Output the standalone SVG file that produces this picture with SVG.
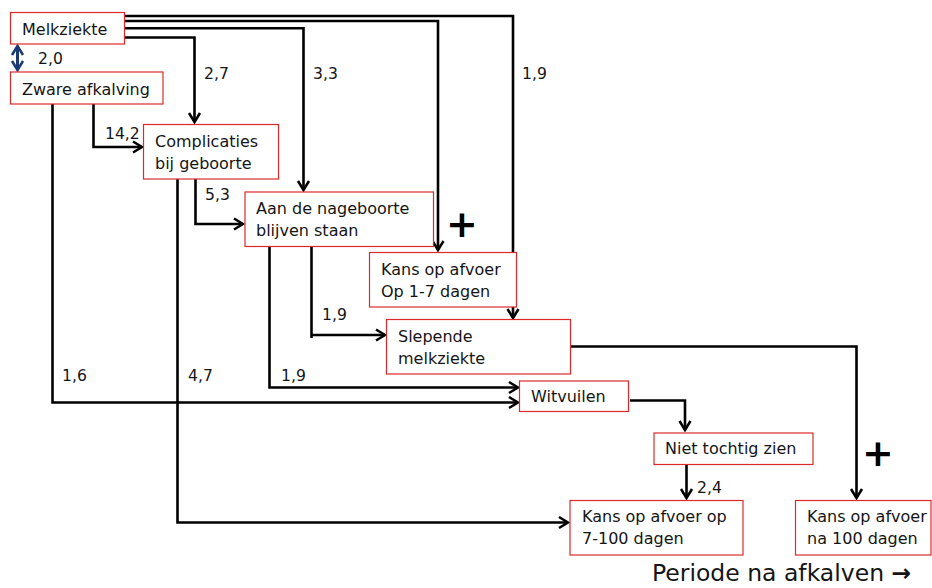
<svg xmlns="http://www.w3.org/2000/svg" width="932" height="588" viewBox="0 0 932 588">
<style>
  .box { fill: #fff; stroke: #dc2a2a; stroke-width: 1.2; }
  .t { font-family: "DejaVu Sans", "Liberation Sans", sans-serif; font-size: 16px; fill: #151515; }
  .lbl { font-family: "DejaVu Sans", "Liberation Sans", sans-serif; font-size: 15.6px; fill: #151515; }
  .c { fill: none; stroke: #000; stroke-width: 2.6; stroke-linejoin: miter; }
  .ca { fill: none; stroke: #000; stroke-width: 2.6; marker-end: url(#arr); }
  .plus { font-family: "DejaVu Sans", "Liberation Sans", sans-serif; font-size: 38px; font-weight: bold; fill: #000; }
</style>
<defs>
  <marker id="arr" markerUnits="userSpaceOnUse" markerWidth="14" markerHeight="14" refX="11" refY="7" orient="auto" overflow="visible">
    <path d="M2,1.5 L11,7 L2,12.5" fill="none" stroke="#000" stroke-width="2.5"/>
  </marker>
  <marker id="barr" markerUnits="userSpaceOnUse" markerWidth="14" markerHeight="14" refX="11" refY="7" orient="auto-start-reverse" overflow="visible">
    <path d="M2,1.5 L11,7 L2,12.5" fill="none" stroke="#1b3a75" stroke-width="2.5"/>
  </marker>
</defs>

<g id="connectors">
  <!-- Melkziekte -> Slepende melkziekte -->
  <path class="ca" d="M125,16 H513 V318"/>
  <!-- Melkziekte -> Kans 1-7 -->
  <path class="ca" d="M123,21 H438 V250"/>
  <!-- Melkziekte -> Aan de nageboorte -->
  <path class="ca" d="M125,28.3 H303.5 V190"/>
  <!-- Melkziekte -> Complicaties -->
  <path class="ca" d="M125,37.5 H194.5 V122"/>
  <!-- Melkziekte <-> Zware afkalving -->
  <path d="M17.5,46 V70" fill="none" stroke="#1b3a75" stroke-width="3" marker-start="url(#barr)" marker-end="url(#barr)"/>
  <!-- Zware -> Witvuilen -->
  <path class="ca" d="M52.5,104 V402.5 H518"/>
  <!-- Zware -> Complicaties -->
  <path class="ca" d="M93.5,104 V147 H142"/>
  <!-- Complicaties -> Kans 7-100 -->
  <path class="ca" d="M177.5,179 V522.5 H568"/>
  <!-- Complicaties -> Aan de nageboorte -->
  <path class="ca" d="M195.5,179 V224 H243"/>
  <!-- Aan de nageboorte -> Witvuilen -->
  <path class="ca" d="M269.5,247 V387.5 H518"/>
  <!-- Aan de nageboorte -> Slepende -->
  <path class="c" d="M311.5,247 V338"/>
  <path class="ca" d="M311.5,335 H385"/>
  <!-- Slepende -> Kans na 100 -->
  <path class="ca" d="M571,346.5 H856.5 V498"/>
  <!-- Witvuilen -> Niet tochtig -->
  <path class="ca" d="M630,400.5 H685 V430"/>
  <!-- Niet tochtig -> Kans 7-100 -->
  <path class="ca" d="M686.5,465 V498"/>
  <!-- labels -->
  <text class="lbl" x="38" y="64">2,0</text>
  <text class="lbl" x="204" y="79">2,7</text>
  <text class="lbl" x="313" y="79">3,3</text>
  <text class="lbl" x="522" y="79">1,9</text>
  <text class="lbl" x="105" y="139">14,2</text>
  <text class="lbl" x="205" y="200">5,3</text>
  <text class="lbl" x="322" y="320">1,9</text>
  <text class="lbl" x="62" y="381">1,6</text>
  <text class="lbl" x="188" y="381">4,7</text>
  <text class="lbl" x="281" y="381">1,9</text>
  <text class="lbl" x="697" y="493">2,4</text>
  <text class="plus" x="462" y="237" text-anchor="middle">+</text>
  <text class="plus" x="878" y="466" text-anchor="middle">+</text>
</g>

<g id="melkziekte">
  <rect class="box" x="10.5" y="12.5" width="114" height="31.5"/>
  <text class="t" x="22" y="35">Melkziekte</text>
</g>
<g id="zware-afkalving">
  <rect class="box" x="10.5" y="72" width="152.5" height="32"/>
  <text class="t" x="22" y="95">Zware afkalving</text>
</g>
<g id="complicaties">
  <rect class="box" x="143.5" y="124.5" width="135" height="54.5"/>
  <text class="t" x="155" y="147">Complicaties</text>
  <text class="t" x="155" y="169">bij geboorte</text>
</g>
<g id="nageboorte">
  <rect class="box" x="245" y="192" width="188.5" height="54.5"/>
  <text class="t" x="256" y="214">Aan de nageboorte</text>
  <text class="t" x="256" y="236">blijven staan</text>
</g>
<g id="kans-1-7">
  <rect class="box" x="369.5" y="252.5" width="147" height="54.5"/>
  <text class="t" x="381" y="275">Kans op afvoer</text>
  <text class="t" x="381" y="297">Op 1-7 dagen</text>
</g>
<g id="slepende">
  <rect class="box" x="386.5" y="319.5" width="184" height="54.5"/>
  <text class="t" x="398" y="342">Slepende</text>
  <text class="t" x="398" y="364">melkziekte</text>
</g>
<g id="witvuilen">
  <rect class="box" x="519.5" y="381" width="109" height="30.5"/>
  <text class="t" x="531" y="402">Witvuilen</text>
</g>
<g id="niet-tochtig">
  <rect class="box" x="654" y="433" width="159" height="31.5"/>
  <text class="t" x="665" y="454">Niet tochtig zien</text>
</g>
<g id="kans-7-100">
  <rect class="box" x="570" y="500.5" width="173" height="54.5"/>
  <text class="t" x="582" y="522">Kans op afvoer op</text>
  <text class="t" x="582" y="544">7-100 dagen</text>
</g>
<g id="kans-na-100">
  <rect class="box" x="795.5" y="500.5" width="135.5" height="54.5"/>
  <text class="t" x="807" y="522">Kans op afvoer</text>
  <text class="t" x="807" y="544">na 100 dagen</text>
</g>
<text x="652" y="581" font-family="DejaVu Sans, Liberation Sans, sans-serif" font-size="23.5" fill="#151515">Periode na afkalven <tspan font-weight="bold">→</tspan></text>
</svg>
